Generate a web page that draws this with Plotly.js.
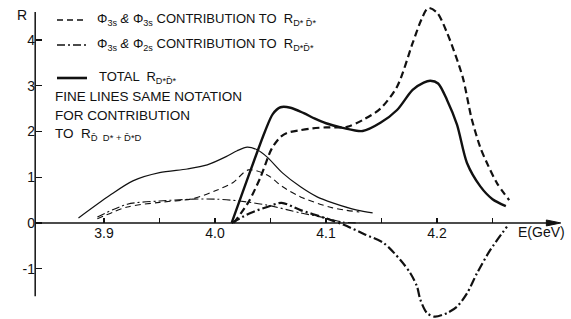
<!DOCTYPE html>
<html><head><meta charset="utf-8">
<script src="https://cdn.plot.ly/plotly-3.0.1.min.js"></script>
<style>html,body{margin:0;padding:0;background:#fff}#chart{width:571px;height:319px}</style>
</head><body><div id="chart"></div>
<script>
// Thick lines: contributions to R_{D* D̄*}
const E_total = [4.015, 4.025, 4.035, 4.045, 4.052, 4.059, 4.068, 4.08, 4.09, 4.1, 4.115, 4.133, 4.149, 4.164, 4.178, 4.188, 4.194, 4.201, 4.209, 4.218, 4.227, 4.239, 4.25, 4.262];
const R_total = [0, 0.68, 1.35, 2.0, 2.38, 2.53, 2.52, 2.40, 2.28, 2.18, 2.08, 2.01, 2.19, 2.47, 2.91, 3.07, 3.11, 3.05, 2.69, 2.15, 1.31, 0.8, 0.52, 0.37];
const E_3s3s = [4.017, 4.03, 4.041, 4.051, 4.059, 4.065, 4.077, 4.088, 4.1, 4.119, 4.133, 4.149, 4.164, 4.178, 4.186, 4.192, 4.2, 4.209, 4.223, 4.231, 4.239, 4.245, 4.254, 4.265];
const R_3s3s = [0, 0.45, 1.0, 1.62, 1.88, 1.97, 2.03, 2.07, 2.09, 2.10, 2.25, 2.5, 2.98, 3.93, 4.45, 4.70, 4.60, 4.16, 3.2, 2.3, 1.65, 1.31, 0.87, 0.5];
const E_3s2s = [4.015, 4.032, 4.047, 4.06, 4.077, 4.1, 4.116, 4.135, 4.152, 4.167, 4.176, 4.182, 4.185, 4.191, 4.198, 4.209, 4.218, 4.227, 4.236, 4.248, 4.263];
const R_3s2s = [0, 0.22, 0.35, 0.44, 0.28, 0.10, -0.04, -0.25, -0.44, -0.81, -1.10, -1.39, -1.68, -1.97, -2.05, -1.97, -1.83, -1.54, -1.10, -0.59, -0.08];
// Fine lines: contributions to R_{D̄ D* + D̄* D}
const E_fineTotal = [3.877, 3.905, 3.926, 3.95, 3.975, 3.993, 4.01, 4.02, 4.029, 4.038, 4.047, 4.061, 4.077, 4.092, 4.106, 4.128, 4.142];
const R_fineTotal = [0.11, 0.6, 0.92, 1.1, 1.18, 1.27, 1.45, 1.58, 1.66, 1.6, 1.44, 1.09, 0.79, 0.57, 0.44, 0.28, 0.22];
const E_fine3s3s = [3.894, 3.921, 3.95, 3.98, 4.002, 4.016, 4.03, 4.047, 4.061, 4.077, 4.106, 4.13];
const R_fine3s3s = [0.09, 0.35, 0.45, 0.53, 0.72, 0.88, 1.16, 1.05, 0.79, 0.57, 0.33, 0.24];
const E_fine3s2s = [3.894, 3.921, 3.95, 3.98, 4.002, 4.022, 4.047, 4.077, 4.1, 4.115, 4.13];
const R_fine3s2s = [0.13, 0.41, 0.48, 0.52, 0.52, 0.48, 0.39, 0.22, 0.11, 0.02, 0.0];
// Axes
const xTickVals = [3.9, 4.0, 4.1, 4.2];
const xTickText = ['3.9', '4.0', '4.1', '4.2'];
const xMinorVals = [3.95, 4.05, 4.15, 4.25];
const yTickVals = [-1, 0, 1, 2, 3, 4];
const yTickText = ['-1', '0', '1', '2', '3', '4'];
const legendTexts = [
  'Φ<sub>3s</sub> <i>&amp;</i> Φ<sub>3s</sub> CONTRIBUTION TO  R<sub>D* D̄*</sub>',
  'Φ<sub>3s</sub> <i>&amp;</i> Φ<sub>2s</sub> CONTRIBUTION TO  R<sub>D*D̄*</sub>',
  'TOTAL  R<sub>D*D̄*</sub>'
];
const noteTexts = ['FINE LINES SAME NOTATION', 'FOR CONTRIBUTION', 'TO  R<sub>D̄  D* + D̄*D</sub>'];

const FONT = 'Liberation Sans, Arial, sans-serif';
const K = '#111';
const DASH_T = '7px,4px', DASHDOT_T = '9px,3px,2px,3px';
const DASH_F = '6px,4px', DASHDOT_F = '8px,3px,2px,3px';

function tr(x, y, w, dash) {
  return {x: x, y: y, mode: 'lines', line: {color: K, width: w, dash: dash, shape: 'spline', smoothing: 0.8}, hoverinfo: 'skip', showlegend: false};
}
const data = [
  tr(E_fineTotal, R_fineTotal, 1.2, 'solid'),
  tr(E_fine3s3s, R_fine3s3s, 1.1, DASH_F),
  tr(E_fine3s2s, R_fine3s2s, 1.1, DASHDOT_F),
  tr(E_total, R_total, 2.4, 'solid'),
  tr(E_3s3s, R_3s3s, 2.2, DASH_T),
  tr(E_3s2s, R_3s2s, 2.2, DASHDOT_T)
];

const W = 571, H = 319;
const px = v => v / W, py = v => 1 - v / H;
const keyDash = [DASH_F, DASHDOT_F, 'solid'];
const keyY = [20, 45, 78];
const keyW = [1.4, 1.4, 2.6];
const shapes = [
  {type: 'line', xref: 'x', yref: 'y', x0: 3.838, x1: 3.838, y0: -1.6, y1: 4.61, line: {color: K, width: 1.5}},
  {type: 'line', xref: 'x', yref: 'y', x0: 3.838, x1: 4.303, y0: 0, y1: 0, line: {color: K, width: 1.5}},
  {type: 'path', xref: 'x', yref: 'y', path: 'M 4.2985 0.065 L 4.3115 0 L 4.2985 -0.065 Z', fillcolor: K, line: {color: K, width: 1}}
];
keyY.forEach((y, i) => shapes.push({type: 'line', xref: 'paper', yref: 'paper', x0: px(57), x1: px(87), y0: py(y), y1: py(y), line: {color: K, width: keyW[i], dash: keyDash[i]}}));

const annotations = [
  {x: 4.271, y: -0.2, xref: 'x', yref: 'y', xanchor: 'left', yanchor: 'middle', showarrow: false, text: 'E(GeV)', font: {family: FONT, size: 14, color: K}},
  {x: 3.826, y: 4.55, xref: 'x', yref: 'y', xanchor: 'center', yanchor: 'middle', showarrow: false, text: 'R', font: {family: FONT, size: 14, color: K}}
];
const legX = [95, 95, 97];
legendTexts.forEach((t, i) => annotations.push({x: px(legX[i]), y: py(keyY[i]), xref: 'paper', yref: 'paper', xanchor: 'left', yanchor: 'middle', showarrow: false, text: t, font: {family: FONT, size: 13, color: K}}));
const noteY = [97, 115, 134];
noteTexts.forEach((t, i) => annotations.push({x: px(53), y: py(noteY[i]), xref: 'paper', yref: 'paper', xanchor: 'left', yanchor: 'middle', showarrow: false, text: t, font: {family: FONT, size: 13.5, color: K}}));

const layout = {
  width: W, height: H,
  margin: {l: 0, r: 0, t: 0, b: 0},
  paper_bgcolor: '#fff', plot_bgcolor: '#fff',
  showlegend: false,
  xaxis: {range: [3.8063, 4.3207], anchor: 'free', position: 1 - 223 / H, showline: false, showgrid: false, zeroline: false,
          ticks: 'inside', ticklen: 5, tickwidth: 1.2, tickcolor: K, tickmode: 'array', tickvals: xTickVals, ticktext: xTickText,
          minor: {tickmode: 'array', tickvals: xMinorVals, ticks: 'inside', ticklen: 5, tickwidth: 1.2, tickcolor: K, showgrid: false},
          tickfont: {family: FONT, size: 14, color: K}},
  yaxis: {range: [-2.10, 4.875], anchor: 'free', position: 35 / W, showline: false, showgrid: false, zeroline: false,
          ticks: 'inside', ticklen: 6, tickwidth: 1.2, tickcolor: K, tickmode: 'array', tickvals: yTickVals, ticktext: yTickText,
          tickfont: {family: FONT, size: 14, color: K}},
  shapes: shapes,
  annotations: annotations
};
Plotly.newPlot('chart', data, layout, {staticPlot: true, displayModeBar: false});
</script></body></html>
